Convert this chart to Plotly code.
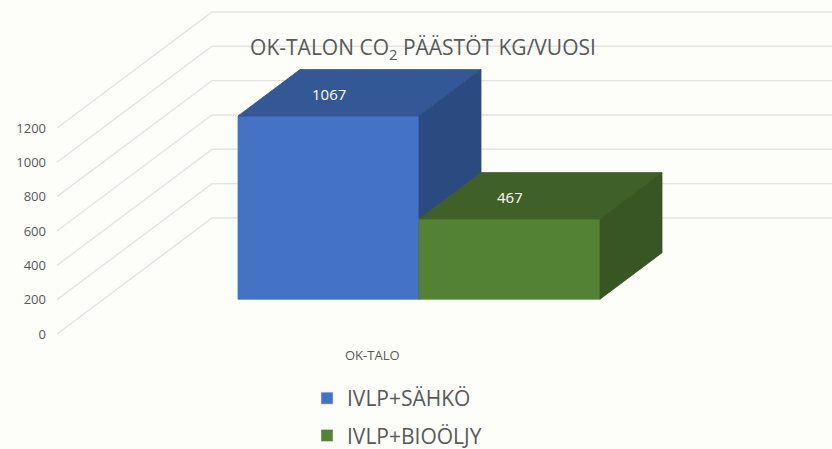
import plotly.graph_objects as go

# ---------------- data ----------------
categories = ["OK-TALO"]
series_names = ["IVLP+SÄHKÖ", "IVLP+BIOÖLJY"]
series_values = [1067, 467]
tick_values = [0, 200, 400, 600, 800, 1000, 1200]
tick_labels = ["0", "200", "400", "600", "800", "1000", "1200"]
title_text = "OK-TALON CO<sub>2</sub> PÄÄSTÖT KG/VUOSI"

# ---------------- style / geometry ----------------
W, H = 832, 449
front_colors = ["#4472C4", "#548235"]
top_colors = ["#345795", "#3F6128"]
side_colors = ["#2A4A80", "#375623"]
grid_color = "#e4e4e4"
text_color = "#595959"
FONT = "Open Sans"

PX_PER_U = 181.0          # px per bar width (x units)
PX_PER_V = 0.1717         # px per value unit
X0_PX = 191.5             # px position of u = 0 (depth plane 0)
Y0_PX = 334.0             # px position of v = 0 (depth plane 0)
DEPTH_X = 155.0 / PX_PER_U   # full depth offset in x units
DEPTH_V = 116.0 / PX_PER_V   # full depth offset in value units
BAR_FRONT, BAR_BACK = 0.3, 0.7
WALL_U = (57.0 - X0_PX) / PX_PER_U
ML = 47
x_range = [(ML - X0_PX) / PX_PER_U, (W - X0_PX) / PX_PER_U]
y_range = [(Y0_PX - H) / PX_PER_V, Y0_PX / PX_PER_V]


def proj(u, v, d):
    return u + d * DEPTH_X, v + d * DEPTH_V


fig = go.Figure()

# gridlines: left wall diagonal + back wall horizontal
for t in tick_values:
    p0 = proj(WALL_U, t, 0)
    p1 = proj(WALL_U, t, 1)
    fig.add_trace(go.Scatter(
        x=[p0[0], p1[0], x_range[1]], y=[p0[1], p1[1], p1[1]],
        mode="lines", line=dict(color=grid_color, width=1.4),
        hoverinfo="skip", showlegend=False))

# bars (as 3D boxes)
for i, (name, val) in enumerate(zip(series_names, series_values)):
    x0, x1 = float(i), float(i + 1)
    f, b = BAR_FRONT, BAR_BACK
    faces = [
        ([proj(x0, 0, f), proj(x1, 0, f), proj(x1, val, f), proj(x0, val, f)], front_colors[i]),
        ([proj(x0, val, f), proj(x1, val, f), proj(x1, val, b), proj(x0, val, b)], top_colors[i]),
        ([proj(x1, 0, f), proj(x1, 0, b), proj(x1, val, b), proj(x1, val, f)], side_colors[i]),
    ]
    for pts, col in faces:
        xs = [p[0] for p in pts] + [pts[0][0]]
        ys = [p[1] for p in pts] + [pts[0][1]]
        fig.add_trace(go.Scatter(
            x=xs, y=ys, mode="lines", fill="toself", fillcolor=col,
            line=dict(color=col, width=0.8), hoverinfo="skip", showlegend=False))
    # value label on top face
    lx, ly = proj((x0 + x1) / 2 - 0.16, val, 0.49)
    fig.add_annotation(x=lx, y=ly, text=str(val), showarrow=False,
                       font=dict(family=FONT, size=15, color="white"))
    # legend entry
    fig.add_trace(go.Bar(x=[None], y=[None], name=name, marker_color=front_colors[i],
                         legendgroup=name))

# category label
fig.add_annotation(x=1.0, y=0, yshift=-21, text=categories[0], showarrow=False,
                   font=dict(family=FONT, size=13, color=text_color))

fig.update_layout(
    width=W, height=H, autosize=False,
    margin=dict(l=ML, r=0, t=0, b=0, pad=0, autoexpand=False),
    paper_bgcolor="#fdfdf9", plot_bgcolor="rgba(0,0,0,0)",
    title=dict(text=title_text, x=423 / W, xanchor="center", y=1 - 48 / H, yanchor="middle",
               yref="container", font=dict(family=FONT, size=21, color=text_color)),
    xaxis=dict(range=x_range, visible=False, fixedrange=True),
    yaxis=dict(range=y_range, tickvals=tick_values, ticktext=tick_labels,
               showgrid=False, zeroline=False, showline=False, ticks="",
               tickfont=dict(family=FONT, size=13, color=text_color), fixedrange=True),
    legend=dict(x=(307 - ML) / (W - ML), xanchor="left", y=1 - 378 / H, yanchor="top",
                orientation="v", tracegroupgap=7, bgcolor="rgba(0,0,0,0)",
                font=dict(family=FONT, size=21, color=text_color)),
    showlegend=True,
)

fig.write_html("out.html", config={"displayModeBar": False},
               post_script="document.body.style.margin='0';")
